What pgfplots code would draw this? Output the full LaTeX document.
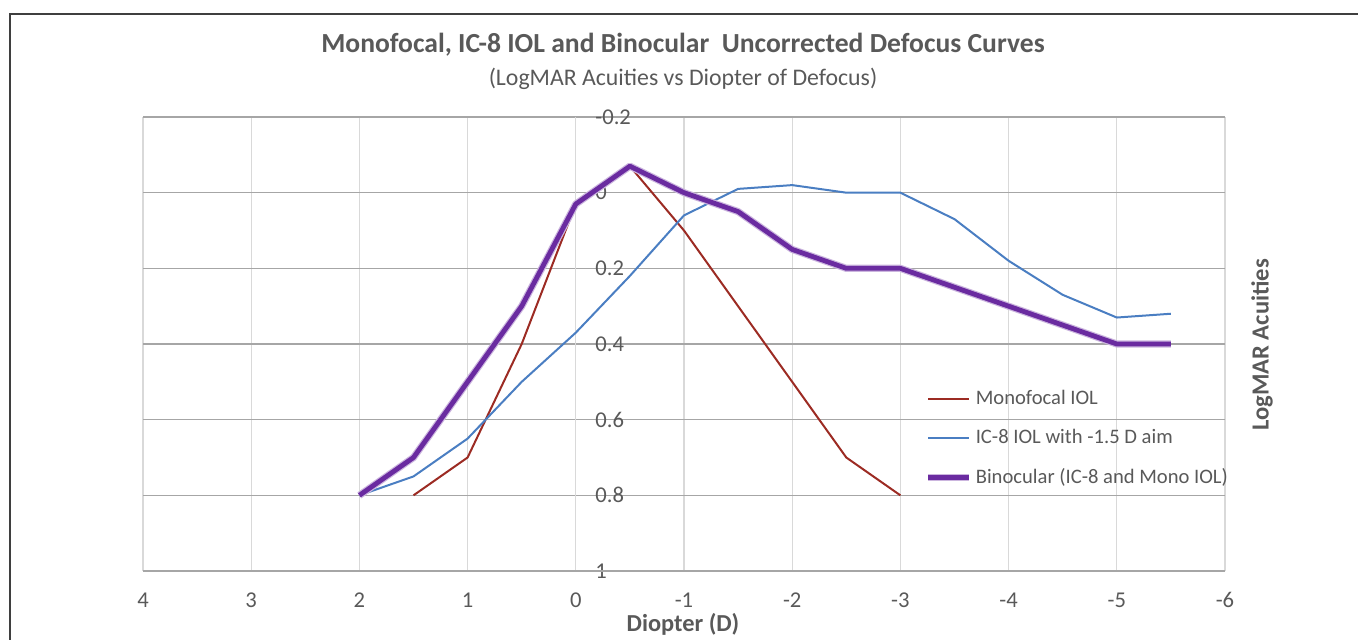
\documentclass[border=0pt]{standalone}
\usepackage{pgfplots}
\pgfplotsset{compat=1.18}
\usepackage{fontspec}
\setmainfont{Carlito}
\definecolor{txt}{HTML}{595959}
\definecolor{monored}{HTML}{9C2B23}
\definecolor{icblue}{HTML}{4A7EC2}
\definecolor{binpurple}{HTML}{6A2BA0}
\definecolor{frame}{HTML}{3F3F3F}
\begin{document}
\begin{tikzpicture}
\begin{axis}[
  name=ax,
  scale only axis,
  width=541pt, height=227pt,
  xmin=-6, xmax=4, ymin=-0.2, ymax=1,
  x dir=reverse, y dir=reverse,
  xtick={-6,-5,...,4}, ytick={-0.2,0,0.2,0.4,0.6,0.8,1},
  yticklabels={-0.2,0,0.2,0.4,0.6,0.8,1},
  /pgf/number format/assume math mode=true,
  axis line style={draw=none},
  major tick length=0pt,
  xmajorgrids, ymajorgrids,
  x grid style={color=black!15, line width=0.6pt},
  y grid style={color=black!35, line width=0.6pt},
  extra x ticks={0}, extra x tick labels={},
  extra x tick style={grid style={color=black!35, line width=0.7pt}},
  extra y ticks={1}, extra y tick labels={},
  extra y tick style={grid style={color=black!35, line width=0.7pt}},
  tick label style={font=\fontsize{11.3}{13}\selectfont, text=txt},
  xticklabel style={anchor=center, yshift=-14.5pt},
  yticklabel style={anchor=west, xshift=226pt, inner sep=0pt},
  legend style={at={(rel axis cs:0.722,0.405)}, anchor=north west, draw=none, fill=none,
    font=\fontsize{10.3}{11.5}\selectfont, text=txt, row sep=7.9pt, inner sep=0pt,
    nodes={inner sep=1.5pt}},
  legend cell align=left,
  legend image code/.code={\draw[#1] (0pt,0pt) -- (20.5pt,0pt);},
  clip=false,
]
\addplot[monored, line width=1pt] coordinates {
 (1.5,0.8) (1,0.7) (0.5,0.4) (0,0.03) (-0.5,-0.07) (-1,0.1) (-1.5,0.3) (-2,0.5) (-2.5,0.7) (-3,0.8)};
\addlegendentry{Monofocal IOL}
\addplot[icblue, line width=1pt] coordinates {
 (2,0.8) (1.5,0.75) (1,0.65) (0.5,0.5) (0,0.37) (-0.5,0.22) (-1,0.06) (-1.5,-0.01) (-2,-0.02) (-2.5,0) (-3,0) (-3.5,0.07) (-4,0.18) (-4.5,0.27) (-5,0.33) (-5.5,0.32)};
\addlegendentry{IC-8 IOL with -1.5 D aim}
\addplot[binpurple, line width=2.4pt, line join=round,
  preaction={draw=binpurple!35, line width=3.6pt, line join=round}] coordinates {
 (2,0.8) (1.5,0.7) (1,0.5) (0.5,0.3) (0,0.03) (-0.5,-0.07) (-1,0) (-1.5,0.05) (-2,0.15) (-2.5,0.2) (-3,0.2) (-3.5,0.25) (-4,0.3) (-4.5,0.35) (-5,0.4) (-5.5,0.4)};
\addlegendentry{Binocular (IC-8 and Mono IOL)}
\end{axis}
\path[use as bounding box] (-71.5pt,-34pt) rectangle (607.5pt,285.5pt);
\draw[frame, line width=1pt] (-66.5pt,-40pt) -- (-66.5pt,278.5pt) -- (620pt,278.5pt);
\node[text=txt, font=\bfseries\fontsize{13.8}{16}\selectfont] at (270pt,263pt) {Monofocal, IC-8 IOL and Binocular\ \ Uncorrected Defocus Curves};
\node[text=txt, font=\fontsize{11.9}{14}\selectfont] at (270pt,246pt) {(LogMAR Acuities vs Diopter of Defocus)};
\node[text=txt, font=\bfseries\fontsize{12.3}{14}\selectfont, rotate=90] at (559.5pt,113pt) {LogMAR Acuities};
\node[text=txt, font=\bfseries\fontsize{12.2}{14}\selectfont] at (270pt,-26.5pt) {Diopter (D)};
\end{tikzpicture}
\end{document}
